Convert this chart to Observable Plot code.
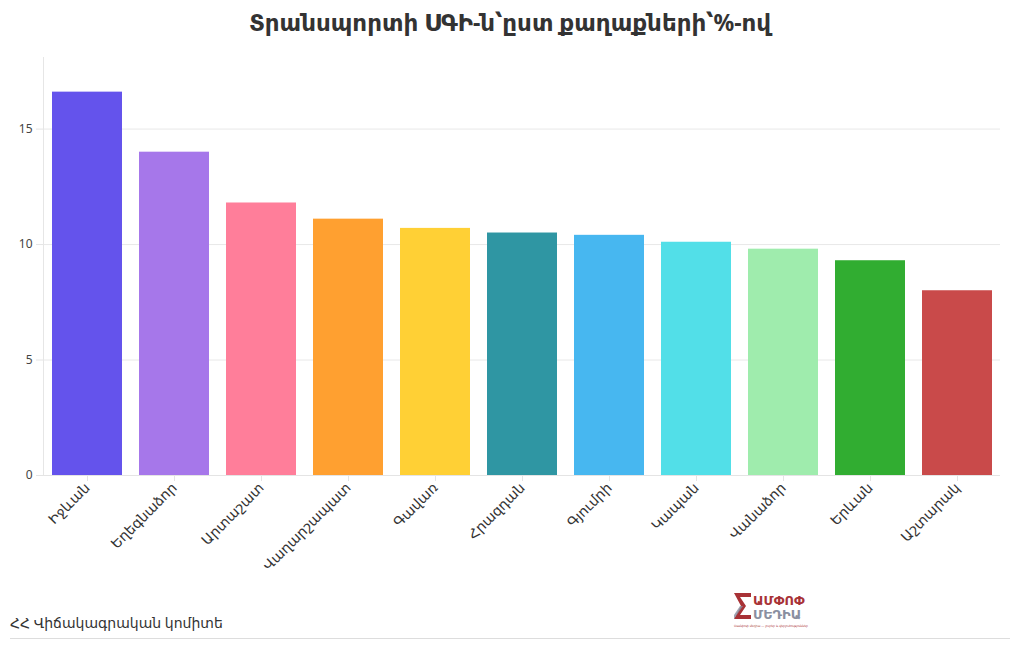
<!DOCTYPE html>
<html>
<head>
<meta charset="utf-8">
<script src="https://cdn.jsdelivr.net/npm/d3@7"></script>
<script src="https://cdn.jsdelivr.net/npm/@observablehq/plot@0.6"></script>
<style>
  html, body { margin: 0; padding: 0; background: #fff; width: 1020px; height: 650px; overflow: hidden; font-family: "Noto Sans", "DejaVu Sans", sans-serif; }
  #title { position: absolute; top: 6px; left: 0; width: 1020px; text-align: center; font-size: 23px; font-weight: 700; color: #333; font-family: "Noto Sans", "DejaVu Sans", sans-serif; }
  #chart { position: absolute; top: 45px; left: 0; }
  #chart svg { overflow: visible; }
  #source { position: absolute; left: 10px; top: 613px; font-size: 14px; color: #333; }
  #rule { position: absolute; left: 10px; top: 638px; width: 1000px; height: 1px; background: #ddd; }
  #logo { position: absolute; left: 731px; top: 591px; }
</style>
</head>
<body>
<div id="title">Տրանսպորտի ՍԳԻ-ն՝ըստ քաղաքների՝%-ով</div>
<div id="chart"></div>
<div id="source">ՀՀ Վիճակագրական կոմիտե</div>
<div id="rule"></div>
<div id="logo">
  <svg width="86" height="42" viewBox="0 0 86 42">
    <path d="M3 2 H20 V6 H9 L15 15 L9 24 H20 V28 H3 L10 15 Z" fill="#a83236"/>
    <path d="M9 15 L3 24 V28 L12 15 Z" fill="#8a8fa0" opacity="0.8"/>
    <text x="22" y="14" font-size="13" font-weight="700" fill="#a83236" font-family="DejaVu Sans, sans-serif">ԱՄՓՈՓ</text>
    <text x="22" y="28" font-size="13" font-weight="700" fill="#8a8fa0" font-family="DejaVu Sans, sans-serif">ՄԵԴԻԱ</text>
    <text x="3" y="36" font-size="3" fill="#a83236" font-family="DejaVu Sans, sans-serif">Սամփոփ մեդիա — լուրեր և վերլուծություններ</text>
  </svg>
</div>
<script>
const cities = ["Իջևան", "Եղեգնաձոր", "Արտաշատ", "Վաղարշապատ", "Գավառ", "Հրազդան", "Գյումրի", "Կապան", "Վանաձոր", "Երևան", "Աշտարակ"];
const values = [16.6, 14.0, 11.8, 11.1, 10.7, 10.5, 10.4, 10.1, 9.8, 9.3, 8.0];
const colors = ["#6453ec", "#a677ea", "#ff7e9a", "#ffa030", "#ffd035", "#2f96a3", "#47b7f0", "#52dfe8", "#9fecad", "#31ad31", "#c94a4a"];
const yTicks = [0, 5, 10, 15];

const data = cities.map((c, i) => ({city: c, value: values[i], color: colors[i]}));

const H = 540, MT = 12, MB = 110;
const chart = Plot.plot({
  width: 1020,
  height: H,
  marginLeft: 43,
  marginRight: 20,
  marginTop: MT,
  marginBottom: MB,
  style: { fontFamily: "'Noto Sans', 'DejaVu Sans', sans-serif", background: "#fff", overflow: "visible" },
  x: { domain: cities, paddingInner: 0.2, paddingOuter: 0.1, label: null },
  y: { domain: [0, 18.1], label: null },
  marks: [
    Plot.gridY(yTicks, { stroke: "#e8e8e8", strokeOpacity: 1 }),
    Plot.barY(data, { x: "city", y: "value", fill: "color", fillOpacity: 1 }),
    Plot.axisY(yTicks, { tickSize: 7, tickPadding: 4, stroke: "#e4e4e4", fill: "#444", fontSize: 12, tickFormat: d => String(d) }),
    Plot.axisX({ tickSize: 6, tickPadding: 4, tickRotate: -45, stroke: "#e4e4e4", fill: "#333", fontSize: 14 }),
    Plot.ruleY([0], { stroke: "#e4e4e4" })
  ]
});
document.getElementById("chart").appendChild(chart);
d3.select(chart).append("line").attr("x1", 43.5).attr("x2", 43.5).attr("y1", MT).attr("y2", H - MB).attr("stroke", "#e6e6e6");
</script>
</body>
</html>
